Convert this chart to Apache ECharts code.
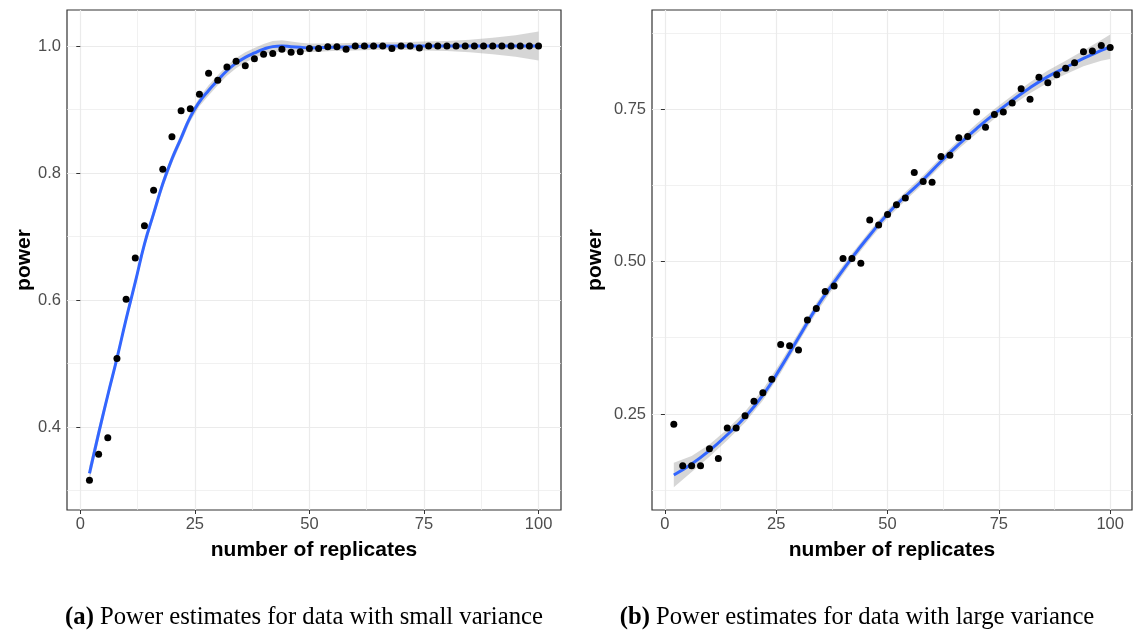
<!DOCTYPE html>
<html>
<head>
<meta charset="utf-8">
<script src="https://cdn.jsdelivr.net/npm/echarts@6/dist/echarts.min.js"></script>
<style>html,body{margin:0;padding:0;background:#fff;}#c{width:1136px;height:633px;}</style>
</head>
<body>
<div id="c"></div>
<script>
// ---------- data ----------
const replicates = [2,4,6,8,10,12,14,16,18,20,22,24,26,28,30,32,34,36,38,40,42,44,46,48,50,
  52,54,56,58,60,62,64,66,68,70,72,74,76,78,80,82,84,86,88,90,92,94,96,98,100];

const powerSmallVar = [0.316,0.357,0.383,0.508,0.601,0.666,0.717,0.773,0.806,0.857,0.898,0.901,0.924,0.957,0.946,0.967,0.976,0.969,0.980,0.987,0.988,0.995,0.990,0.991,0.996,
  0.996,0.999,0.999,0.995,1.000,1.000,1.000,1.000,0.996,1.000,1.000,0.997,1.000,1.000,1.000,1.000,1.000,1.000,1.000,1.000,1.000,1.000,1.000,1.000,1.000];

const powerLargeVar = [0.233,0.165,0.165,0.165,0.193,0.177,0.227,0.227,0.247,0.271,0.285,0.307,0.364,0.362,0.355,0.404,0.423,0.451,0.460,0.505,0.505,0.497,0.568,0.560,0.577,
  0.593,0.604,0.646,0.631,0.630,0.672,0.674,0.703,0.705,0.745,0.720,0.741,0.745,0.760,0.783,0.766,0.802,0.793,0.806,0.817,0.826,0.844,0.845,0.854,0.851];

// fitted smooth curves and confidence band
const fitXSmall = [2,4,6,8,10,12,14,16,18,20,22,24,26,28,30,32,34,36,38,40,42,44,46,48,50,55,60,65,70,75,80,85,90,95,100];
const fitSmall  = [0.327,0.390,0.450,0.508,0.570,0.628,0.688,0.736,0.783,0.822,0.855,0.888,0.912,0.930,0.946,0.961,0.973,0.982,0.989,0.995,0.999,1.000,0.999,0.998,0.997,0.998,0.999,1.000,1.000,1.000,1.000,1.000,1.000,1.000,1.000];
const fitSmallLo= [0.315,0.380,0.442,0.501,0.563,0.621,0.681,0.729,0.776,0.815,0.848,0.881,0.905,0.922,0.938,0.953,0.965,0.974,0.981,0.987,0.990,0.991,0.991,0.991,0.990,0.992,0.993,0.994,0.994,0.993,0.992,0.990,0.987,0.983,0.977];
const fitSmallHi= [0.339,0.400,0.458,0.515,0.577,0.635,0.695,0.743,0.790,0.829,0.862,0.895,0.919,0.938,0.954,0.969,0.981,0.990,0.997,1.003,1.008,1.009,1.007,1.005,1.004,1.004,1.005,1.006,1.006,1.007,1.008,1.010,1.013,1.017,1.023];

const fitXLarge = [2,6,10,14,18,22,26,30,34,38,42,46,50,54,58,62,66,70,74,78,82,86,90,94,98,100];
const fitLarge  = [0.150,0.168,0.190,0.216,0.245,0.281,0.326,0.375,0.424,0.466,0.506,0.543,0.578,0.607,0.634,0.664,0.692,0.718,0.742,0.764,0.785,0.803,0.818,0.833,0.846,0.852];
const fitLargeLo= [0.130,0.155,0.180,0.207,0.236,0.272,0.317,0.367,0.416,0.458,0.499,0.536,0.571,0.600,0.627,0.657,0.685,0.710,0.734,0.756,0.776,0.793,0.807,0.820,0.829,0.832];
const fitLargeHi= [0.170,0.181,0.200,0.225,0.254,0.290,0.335,0.383,0.432,0.474,0.513,0.550,0.585,0.614,0.641,0.671,0.699,0.726,0.750,0.772,0.794,0.813,0.829,0.846,0.863,0.872];

// ticks
const xMajor = [0,25,50,75,100];
const xMinor = [12.5,37.5,62.5,87.5];
const yMajorSmall = [0.4,0.6,0.8,1.0];
const yMinorSmall = [0.3,0.5,0.7,0.9];
const yMajorLarge = [0.25,0.50,0.75];
const yMinorLarge = [0.125,0.375,0.625,0.875];

const captionA = 'Power estimates for data with small variance';
const captionB = 'Power estimates for data with large variance';

// ---------- chart ----------
const LBL = {color:'#4D4D4D', fontSize:16.5, fontFamily:'Liberation Sans'};
const NAME = {color:'#000', fontSize:21, fontWeight:'bold', fontFamily:'Liberation Sans'};
const GRIDC = '#EBEBEB';

function zip(xs, ys){ return xs.map((x,i)=>[x, ys[i]]); }

function xAxes(gi){
  return [
    {gridIndex:gi, type:'value', min:-2.9, max:104.9,
     name:'number of replicates', nameLocation:'middle', nameGap:30, nameTextStyle:NAME, nameMoveOverlap:false,
     axisLine:{show:false},
     axisTick:{show:true, length:4, lineStyle:{color:'#333', width:1}, customValues:xMajor},
     axisLabel:{...LBL, margin:6, customValues:xMajor, formatter:v=>String(v)},
     splitLine:{show:true, lineStyle:{color:GRIDC, width:1.2}}},
    {gridIndex:gi, type:'value', min:-2.9, max:104.9,
     axisLine:{show:false}, axisLabel:{show:false},
     axisTick:{show:false, customValues:xMinor},
     splitLine:{show:true, lineStyle:{color:GRIDC, width:0.7}}}
  ];
}
function yAxes(gi, min, max, major, minor, dec, gap){
  return [
    {gridIndex:gi, type:'value', min:min, max:max,
     name:'power', nameLocation:'middle', nameGap:gap, nameTextStyle:NAME, nameMoveOverlap:false,
     axisLine:{show:false},
     axisTick:{show:true, length:4, lineStyle:{color:'#333', width:1}, customValues:major},
     axisLabel:{...LBL, margin:6, customValues:major, formatter:v=>v.toFixed(dec)},
     splitLine:{show:true, lineStyle:{color:GRIDC, width:1.2}}},
    {gridIndex:gi, type:'value', min:min, max:max,
     axisLine:{show:false}, axisLabel:{show:false},
     axisTick:{show:false, customValues:minor},
     splitLine:{show:true, lineStyle:{color:GRIDC, width:0.7}}}
  ];
}

function panelSeries(gi, fx, fit, lo, hi, pts){
  const xi = gi*2, yi = gi*2;
  return [
    {type:'custom', xAxisIndex:xi, yAxisIndex:yi, data:[[fx[0], lo[0]]], silent:true, z:2, clip:true,
     renderItem:function(params, api){
       const up = fx.map((x,i)=>api.coord([x, hi[i]]));
       const dn = fx.map((x,i)=>api.coord([x, lo[i]])).reverse();
       return {type:'polygon', shape:{points:up.concat(dn)},
               style:{fill:'rgba(153,153,153,0.4)', stroke:'none'}};
     }},
    {type:'line', xAxisIndex:xi, yAxisIndex:yi, data:zip(fx, fit),
     smooth:true, showSymbol:false, lineStyle:{color:'#3366FF', width:3}, z:3},
    {type:'scatter', xAxisIndex:xi, yAxisIndex:yi, data:zip(replicates, pts),
     symbol:'circle', symbolSize:7, itemStyle:{color:'#000', opacity:1}, z:4}
  ];
}

const chart = echarts.init(document.getElementById('c'), null, {renderer:'canvas'});
chart.setOption({
  animation:false,
  backgroundColor:'#fff',
  grid:[
    {left:67, top:10, width:494, height:500, show:true, borderColor:'#333', borderWidth:1.2, backgroundColor:'#fff'},
    {left:652, top:10, width:480, height:500, show:true, borderColor:'#333', borderWidth:1.2, backgroundColor:'#fff'}
  ],
  xAxis:[...xAxes(0), ...xAxes(1)],
  yAxis:[...yAxes(0, 0.2693, 1.0567, yMajorSmall, yMinorSmall, 1, 32),
         ...yAxes(1, 0.0926, 0.9123, yMajorLarge, yMinorLarge, 2, 46)],
  series:[
    ...panelSeries(0, fitXSmall, fitSmall, fitSmallLo, fitSmallHi, powerSmallVar),
    ...panelSeries(1, fitXLarge, fitLarge, fitLargeLo, fitLargeHi, powerLargeVar)
  ],
  graphic:[
    {type:'text', x:304, y:618, style:{text:'{b|(a)} '+captionA, fontSize:24.7, fontFamily:'Liberation Serif', fill:'#000',
      align:'center', verticalAlign:'middle',
      rich:{b:{fontWeight:'bold', fontSize:24.7, fontFamily:'Liberation Serif'}}}},
    {type:'text', x:857, y:618, style:{text:'{b|(b)} '+captionB, fontSize:24.7, fontFamily:'Liberation Serif', fill:'#000',
      align:'center', verticalAlign:'middle',
      rich:{b:{fontWeight:'bold', fontSize:24.7, fontFamily:'Liberation Serif'}}}}
  ]
});
</script>
</body>
</html>
